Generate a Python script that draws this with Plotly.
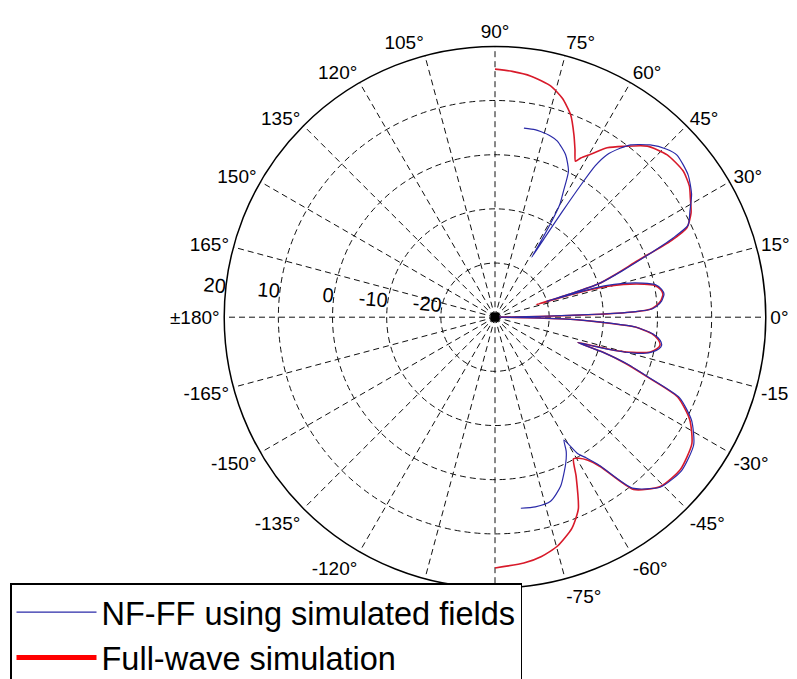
import plotly.graph_objects as go

# ---------------- data (angle in degrees, level in dB) ----------------
fw_theta = [90, 86, 81.5, 76.4, 72.9, 69.5, 66.6, 64.5, 62.7, 61.7, 59.6, 56.5, 53, 48.3,
            43.3, 37.9, 34, 31.5, 28, 25, 23.5, 21.6, 19.5, 17.8, 17.2, 16.9, 16.5, 15.5,
            14.3, 12.5, 11.3, 9.5, 7.8, 5.5, 4, 2.9, 2.2, 1.6, 1.0, 0.5, 0, -0.5, -1, -1.6,
            -2.7, -4, -6, -8, -9.6, -11, -12.6, -14, -15.5, -16.3, -17, -18, -19.5, -21.4,
            -23.6, -27.7, -32.7, -39.4, -45.7, -51.2, -54.8, -57, -59.3, -61, -63, -66.5,
            -70, -74.7, -79, -83.3, -90]
fw_db = [15.8, 15.5, 15.0, 13.9, 12.3, 9.9, 6.7, 4.3, 2.4, 3.4, 4.9, 7.5, 9.5, 12.3,
         13.7, 14.0, 13.3, 12.3, 11.0, 9.1, 5.5, -1.7, -6.5, -10, -15, -22, -15, -9,
         -5.5, -1.8, 0.0, 1.0, 1.3, 0.7, -0.2, -1.3, -4, -10.5, -22, -27, -30, -27, -22, -16,
         -10.5, -4, -0.9, 0.5, 0.9, 0.5, -0.6, -3, -7, -11.6, -14, -9, -4.5, 0.2,
         6.8, 10.6, 13.2, 14.3, 13.7, 10.8, 3.8, 1.5, 0.3, -0.1, 3, 8.6,
         11.5, 13.8, 15.0, 15.7, 16.3]

nf_theta = [81.3, 78, 76.2, 73, 70.5, 66.5, 63.3, 61.5, 60.1, 59.3, 58.8, 58.5, 58, 57.5,
            57, 56.5, 55.5, 53.5, 51.8, 48, 44.5, 41.7, 36.4, 32, 28.6, 25.5, 24, 22, 20,
            18, 17.3, 17, 16.7, 16, 14.8, 13, 11.5, 9.5, 7.8, 5.5, 4, 3, 2.3, 1.7, 1.1, 0.5,
            0, -0.5, -1, -1.7, -2.7, -4, -6, -8, -9.6, -11, -12.6, -13.5, -14.5, -15.5,
            -16.3, -17, -18, -19.5, -21.4, -23.6, -27.7, -32.7, -39.4, -45.7, -51.2, -54.8,
            -57, -58.8, -60.7, -62, -64.2, -68.8, -73.2, -78, -82.3]
nf_db = [5.3, 5.4, 5.3, 5.0, 4.5, 2.7, 0.2, -3.5, -6, -10, -14, -17, -13, -7,
         -1, 3.5, 6.3, 8.8, 10.5, 12.8, 14.3, 15.0, 14.3, 12.8, 11.0, 9.5, 6, 0, -5,
         -9.5, -14, -20, -14, -9, -5.5, -2, 0.2, 1.2, 1.5, 0.9, 0, -1, -4, -10, -21, -27,
         -30, -27, -21, -15, -10, -4, -0.7, 0.8, 1.2, 0.8, -0.4, -1.5, -3.5, -7,
         -11, -14, -9, -4, 0.6, 7.2, 11.0, 13.6, 14.6, 13.8, 10.5, 3.5,
         1.0, -0.6, -4, -2, 0, 3.5, 5.5, 5.8, 5.6]

angle_ticks = list(range(0, 360, 15))
angle_labels = ["0°", "15°", "30°", "45°", "60°", "75°", "90°", "105°", "120°", "135°",
                "150°", "165°", "±180°", "-165°", "-150°", "-135°", "-120°", "-105°",
                "-90°", "-75°", "-60°", "-45°", "-30°", "-15°"]
radial_ticks = [-20, -10, 0, 10, 20]
radial_labels = ["-20", "-10", "0", "10", "20"]
r_range = [-30, 20]

series_names = ["NF-FF using simulated fields", "Full-wave simulation"]

# ---------------- figure ----------------
X0 = 8                      # page offset of the plot div
W, H = 797 - X0, 679
cx, cy, R = 487, 322, 282   # domain box (figure px); plotly draws the disc slightly inside

fig = go.Figure()

fig.add_trace(go.Scatterpolar(
    r=fw_db, theta=fw_theta, mode="lines",
    line=dict(color="#d81a2a", width=1.6, shape="spline", smoothing=0.6),
    name=series_names[1], showlegend=False, hoverinfo="skip"))
fig.add_trace(go.Scatterpolar(
    r=nf_db, theta=nf_theta, mode="lines",
    line=dict(color="#2a2aa8", width=1.2, shape="spline", smoothing=0.6),
    name=series_names[0], legendrank=1))
# legend-only entry for the thick red key
fig.add_trace(go.Scatterpolar(
    r=[None], theta=[None], mode="lines",
    line=dict(color="#ff0000", width=5),
    name=series_names[1], legendrank=2))
# black square at the origin
fig.add_trace(go.Scatterpolar(
    r=[r_range[0]], theta=[0], mode="markers",
    marker=dict(symbol="square", size=9, color="black"),
    showlegend=False, hoverinfo="skip"))

fig.update_layout(
    width=W, height=H,
    margin=dict(l=0, r=0, t=0, b=0),
    paper_bgcolor="white",
    font=dict(family="Liberation Sans, Arial, sans-serif", size=20, color="black"),
    polar=dict(
        domain=dict(x=[(cx - R) / W, (cx + R) / W],
                    y=[(H - cy - R) / H, (H - cy + R) / H]),
        bgcolor="white",
        angularaxis=dict(
            rotation=0, direction="counterclockwise",
            tickmode="array", tickvals=angle_ticks, ticktext=angle_labels,
            showline=True, linecolor="black", linewidth=1.5,
            showgrid=True, gridcolor="#111111", gridwidth=1.2, griddash="6px,4px",
            ticks="", tickfont=dict(size=19)),
        radialaxis=dict(
            range=r_range, angle=175, tickangle=180,
            tickmode="array", tickvals=radial_ticks, ticktext=radial_labels,
            showline=False, ticks="",
            showgrid=True, gridcolor="#111111", gridwidth=1.2, griddash="6px,4px",
            tickfont=dict(size=20)),
    ),
    legend=dict(
        x=(10 - X0) / W, y=(H - 599) / H, xanchor="left", yanchor="top",
        bgcolor="white", bordercolor="black", borderwidth=1.5,
        font=dict(size=32.5, family="Liberation Sans, Arial, sans-serif"),
        itemwidth=80, tracegroupgap=0),
)

fig.write_html("out.html")
